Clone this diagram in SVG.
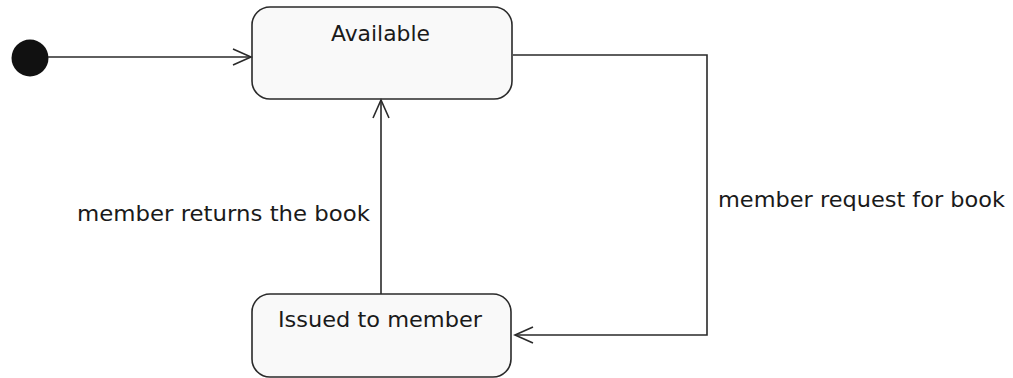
<svg xmlns="http://www.w3.org/2000/svg" width="1013" height="378" viewBox="0 0 1013 378">
<style>
.state{fill:#f9f9f9;stroke:#2a2a2a;stroke-width:1.6}
.lbl{font-family:"DejaVu Sans",sans-serif;font-size:22px;fill:#1a1a1a}
.conn{fill:none;stroke:#2a2a2a;stroke-width:1.6}
</style>
<defs>
<marker id="open" markerWidth="22" markerHeight="20" refX="20" refY="9" orient="auto" markerUnits="userSpaceOnUse">
<path d="M2,1 L20,9 L2,17" fill="none" stroke="#2a2a2a" stroke-width="1.6"/>
</marker>
</defs>
<rect width="1013" height="378" fill="#ffffff"/>
<g id="initial">
<circle cx="30" cy="58" r="18.5" fill="#111"/>
</g>
<g id="available">
<rect class="state" x="252" y="7" width="260" height="92" rx="18" ry="18"/>
<text class="lbl" x="331" y="41" textLength="99" lengthAdjust="spacingAndGlyphs">Available</text>
</g>
<g id="issued">
<rect class="state" x="252" y="294" width="259" height="83" rx="18" ry="18"/>
<text class="lbl" x="278" y="327" textLength="204" lengthAdjust="spacingAndGlyphs">Issued to member</text>
</g>
<g id="connectors">
<line class="conn" x1="48" y1="57" x2="251" y2="57" marker-end="url(#open)"/>
<polyline class="conn" points="513,55 707,55 707,335 515,335" marker-end="url(#open)"/>
<line class="conn" x1="381" y1="294" x2="381" y2="100" marker-end="url(#open)"/>
</g>
<g id="labels">
<text class="lbl" x="77" y="221" textLength="293" lengthAdjust="spacingAndGlyphs">member returns the book</text>
<text class="lbl" x="718" y="207" textLength="287" lengthAdjust="spacingAndGlyphs">member request for book</text>
</g>
</svg>
